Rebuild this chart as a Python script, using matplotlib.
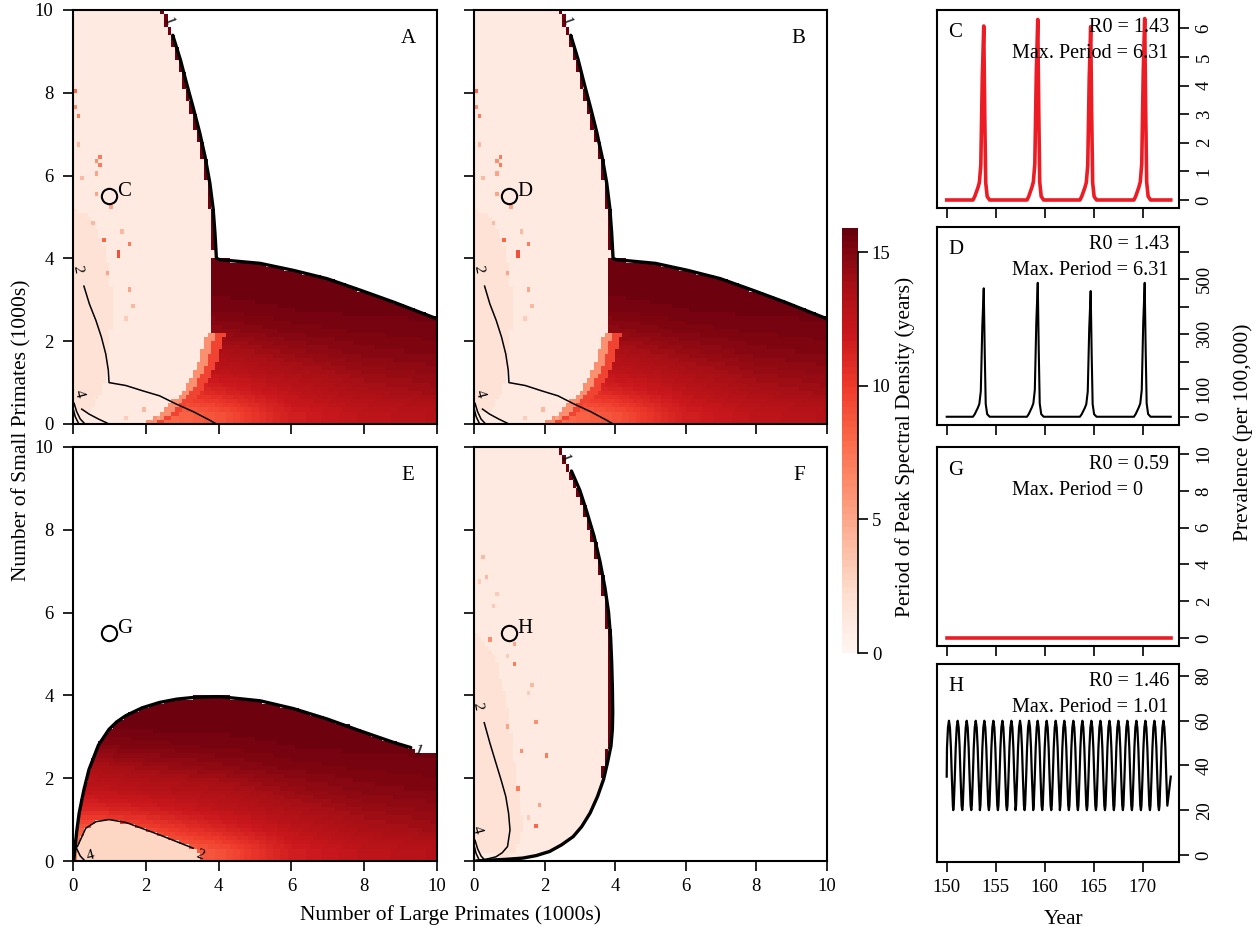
import numpy as np
import matplotlib
matplotlib.use('Agg')
import matplotlib.pyplot as plt
from matplotlib.path import Path

plt.rcParams['font.family'] = ['Liberation Serif', 'DejaVu Serif']

# figure size in pixels
W, H = 1258, 934

#--- Heat map data (1000s of primates) ---
# thick R0 = 1 line, panels A and B
ab_line_x = [2.74, 2.95, 3.11, 3.30, 3.48, 3.63, 3.76, 3.85, 3.90, 3.94, 4.03, 5.14, 6.06, 6.98, 7.90, 8.82, 10.0]
ab_line_y = [9.39, 8.80, 8.26, 7.65, 7.04, 6.45, 5.82, 5.20, 4.61, 4.00, 3.97, 3.88, 3.71, 3.51, 3.23, 2.94, 2.54]
# left edge of the long-period block, A and B
ab_dark_x = [1.92, 2.38, 2.65, 3.02, 3.30, 3.48, 3.66, 3.80, 3.80]
ab_dark_y = [0.00, 0.23, 0.47, 0.79, 1.20, 1.60, 2.17, 2.25, 3.97]
# paler strip along the left axis
ab_pale_x = [0.0, 0.0, 0.5, 0.9, 1.1, 1.0, 0.8, 0.5]
ab_pale_y = [0.3, 5.2, 5.0, 4.2, 3.0, 1.5, 0.8, 0.3]
# single cells that stand out (x, y, period)
ab_spot_x = [0.09, 0.15, 0.05, 0.79, 0.61, 0.79, 0.70, 0.12, 0.63, 0.30, 1.09, 1.50, 1.25, 1.25, 0.81,
             0.99, 1.59, 1.32, 1.62, 1.41, 0.52, 1.92, 2.38, 1.45, 2.10]
ab_spot_y = [8.08, 7.46, 7.67, 6.46, 6.35, 6.25, 6.07, 6.78, 5.58, 5.94, 5.26, 4.32, 4.08, 4.18, 4.44,
             3.63, 3.23, 4.69, 2.82, 2.50, 4.89, 0.31, 0.15, 0.15, 0.06]
ab_spot_v = [8, 7, 6, 7, 6, 7, 5, 4, 5, 4, 5, 7, 9, 9, 8, 5, 5, 4, 4, 3, 4, 4, 5, 3, 6]
# thin contours (R0 = 2, 4, 6, 8)
ab_c2_x = [0.30, 0.45, 0.63, 0.78, 0.90, 0.97, 0.99, 1.45, 1.92, 2.38, 2.84, 3.30, 3.76, 3.94]
ab_c2_y = [3.33, 2.90, 2.50, 2.10, 1.69, 1.30, 1.00, 0.93, 0.80, 0.68, 0.48, 0.30, 0.09, 0.00]
ab_c4_x = [0.24, 0.44, 0.70, 0.99]
ab_c4_y = [0.36, 0.24, 0.12, 0.00]
ab_c6_x = [0.03, 0.10, 0.20, 0.33]
ab_c6_y = [0.50, 0.30, 0.12, 0.00]
ab_c8_x = [0.01, 0.06, 0.16]
ab_c8_y = [0.35, 0.18, 0.00]

# mean period of the long-period block (A, B, E)
dark_tab_x = [0.5, 2.0, 4.0, 6.0, 8.0, 10.0]
dark_tab_y = [0.25, 0.75, 1.25, 1.75, 2.25, 2.75, 3.25, 3.75]
dark_tab_v = [[7.0, 7.5, 9.0, 11.5, 12.5, 13.0],
              [8.5, 9.5, 11.0, 12.5, 13.5, 14.0],
              [11.0, 11.5, 12.5, 13.5, 14.2, 14.5],
              [12.5, 13.0, 13.5, 14.3, 14.8, 15.0],
              [13.5, 14.0, 14.5, 15.0, 15.2, 15.3],
              [14.8, 15.0, 15.2, 15.4, 15.5, 15.5],
              [15.4, 15.5, 15.5, 15.6, 15.6, 15.6],
              [15.6, 15.6, 15.6, 15.6, 15.6, 15.6]]
# lighter fringe on the left of the block in A and B (distance in, period)
fringe_d = [0.25, 0.5]
fringe_v = [6.0, 9.5]

# panel E
e_line_x = [0.02, 0.05, 0.10, 0.17, 0.30, 0.44, 0.70, 0.99, 1.20, 1.45, 1.90, 2.38, 2.85, 3.30, 4.03,
            5.14, 6.06, 6.98, 7.90, 8.82, 9.28]
e_line_y = [0.00, 0.27, 0.70, 1.16, 1.72, 2.21, 2.80, 3.18, 3.36, 3.51, 3.70, 3.83, 3.91, 3.95, 3.97,
            3.87, 3.68, 3.43, 3.14, 2.86, 2.74]
e_shelf_x = [9.40, 10.0]
e_shelf_y = [2.62, 2.62]
e_c2_x = [0.12, 0.35, 0.63, 0.99, 1.46, 2.38, 3.30]
e_c2_y = [0.35, 0.79, 0.95, 1.00, 0.93, 0.63, 0.31]
e_pocket_v = 2.5

# panel F
f_line_x = [2.76, 3.00, 3.19, 3.40, 3.57, 3.71, 3.81, 3.87, 3.90, 3.92, 3.93, 3.92, 3.88, 3.78, 3.67,
            3.50, 3.29, 3.05, 2.81, 2.48, 2.14, 1.76, 1.38, 0.90, 0.43, 0.05]
f_line_y = [9.42, 8.95, 8.45, 7.85, 7.23, 6.60, 6.02, 5.40, 4.80, 4.19, 3.59, 3.18, 2.78, 2.37, 1.97,
            1.56, 1.16, 0.83, 0.59, 0.39, 0.23, 0.13, 0.07, 0.04, 0.02, 0.00]
f_pale_x = [0.0, 0.0, 0.6, 1.0, 1.2, 1.4, 1.2, 0.8]
f_pale_y = [0.3, 5.5, 5.0, 3.5, 2.0, 0.8, 0.2, 0.1]
f_spot_x = [0.21, 0.31, 0.12, 0.62, 0.50, 0.41, 1.11, 0.90, 1.11, 1.62, 1.52, 1.73, 0.90, 1.31, 2.03, 1.22, 1.81, 1.79, 1.52]
f_spot_y = [7.37, 6.87, 6.76, 6.46, 6.16, 5.35, 5.25, 4.94, 4.74, 4.23, 4.03, 3.33, 3.24, 2.63, 2.53, 1.72, 1.40, 0.83, 1.01]
f_spot_v = [4, 4, 3, 3, 3, 6, 5, 3, 7, 4, 3, 6, 5, 6, 7, 7, 5, 8, 3]
f_c2_x = [0.29, 0.45, 0.62, 0.77, 0.90, 0.98, 1.02, 0.95, 0.80, 0.62, 0.14]
f_c2_y = [3.34, 2.85, 2.37, 1.95, 1.56, 1.15, 0.75, 0.35, 0.20, 0.10, 0.00]

pink_v = 1.0   # period of the short-cycle region
vmax = 15.9

#--- Time series data (right column) ---
c_peak_year = [153.78, 159.29, 164.69, 170.20]
c_peak = [6.08, 6.31, 6.06, 6.34]
d_peak = [467, 487, 457, 487]
pulse_dt = [-1.10, -0.92, -0.60, -0.45, -0.30, -0.15, 0.00, 0.10, 0.20, 0.35, 0.60]
pulse_f = [0.0, 0.02, 0.07, 0.10, 0.20, 0.70, 1.00, 0.50, 0.10, 0.02, 0.0]
h_peak_year = [150.23, 151.12, 152.04, 152.96, 153.84, 154.76, 155.68, 156.60, 157.48, 158.40,
               159.28, 160.20, 161.12, 162.00, 162.92, 163.84, 164.76, 165.68, 166.60, 167.51,
               168.43, 169.35, 170.27, 171.19, 172.11]
h_shape_dt = [-0.455, -0.40, -0.30, -0.20, -0.10, 0.00, 0.10, 0.20, 0.30, 0.40]
h_shape_v = [20, 22, 34, 48, 57, 60, 57, 48, 34, 22]
t_start, t_end = 150.0, 172.86

#--- grid of cell centres ---
xs = np.arange(100) * 0.1 + 0.05
ys = np.arange(100) * 0.1 + 0.05
GX, GY = np.meshgrid(xs, ys)


def inside(px, py):
    path = Path(np.column_stack([px, py]))
    pts = np.column_stack([GX.ravel(), GY.ravel()])
    return path.contains_points(pts).reshape(GX.shape)


def dark_field():
    tab = np.asarray(dark_tab_v)
    rows = np.array([np.interp(xs, dark_tab_x, r) for r in tab])
    out = np.empty(GX.shape)
    for j in range(len(xs)):
        out[:, j] = np.interp(ys, dark_tab_y, rows[:, j])
    return out


def add_spots(f, sx, sy, sv):
    for x, y, v in zip(sx, sy, sv):
        i, j = int(y / 0.1), int(x / 0.1)
        if not np.isnan(f[i, j]):
            f[i, j] = v


def edge_cells(f, y_min):
    # cells right against the blank region come out at the longest period
    nan_right = np.zeros(f.shape, bool)
    nan_right[:, :-1] = np.isnan(f[:, 1:])
    f[nan_right & ~np.isnan(f) & (GY > y_min)] = 15.6


# panels A/B
field_ab = np.full(GX.shape, np.nan)
outer = inside([0, 0, 2.51, 2.62] + ab_line_x + [10],
               [0, 10, 10, 9.7] + ab_line_y + [0])
field_ab[outer] = pink_v
field_ab[outer & inside(ab_pale_x, ab_pale_y)] = 1.9
dark = outer & inside(ab_dark_x + [10.1, 10.1], ab_dark_y + [3.97, -0.1])
field_ab[dark] = dark_field()[dark]
dist_in = GX - np.interp(GY, ab_dark_y, ab_dark_x)
for d, v in zip(fringe_d[::-1], fringe_v[::-1]):
    field_ab[dark & (dist_in < d) & (GY < 2.2)] = v
add_spots(field_ab, ab_spot_x, ab_spot_y, ab_spot_v)
edge_cells(field_ab, 4.2)

# panel E
field_e = np.full(GX.shape, np.nan)
outer_e = inside(e_line_x + e_shelf_x + [10], e_line_y + e_shelf_y + [0])
field_e[outer_e] = dark_field()[outer_e]
pocket = inside(e_c2_x + [3.45, 3.5, 0.05, 0.05], e_c2_y + [0.2, 0.0, 0.0, 0.2])
field_e[outer_e & pocket] = e_pocket_v

# panel F
field_f = np.full(GX.shape, np.nan)
outer_f = inside([0, 0, 2.52, 2.57] + f_line_x, [0, 10, 10, 9.72] + f_line_y)
field_f[outer_f] = pink_v
field_f[outer_f & inside(f_pale_x, f_pale_y)] = 1.9
add_spots(field_f, f_spot_x, f_spot_y, f_spot_v)
edge_cells(field_f, 2.0)

cmap = plt.get_cmap('Reds').resampled(64)
cmap.set_bad('white')

fig = plt.figure(figsize=(W / 100, H / 100), dpi=100)


def add_ax(l, t, r, b):
    return fig.add_axes([l / W, 1 - b / H, (r - l) / W, (b - t) / H])


def heat_panel(rect, field, letter, tag, xlab, ylab):
    ax = add_ax(*rect)
    im = ax.imshow(field, origin='lower', extent=[0, 10, 0, 10], cmap=cmap, vmin=0, vmax=vmax,
                   interpolation='nearest', aspect='auto')
    ax.set_xlim(0, 10)
    ax.set_ylim(0, 10)
    ax.set_xticks(range(0, 11, 2))
    ax.set_yticks(range(0, 11, 2))
    ax.tick_params(direction='out', length=7, width=1.2, labelsize=13.5)
    ax.tick_params(axis='y', pad=7)
    ax.tick_params(axis='x', pad=5)
    if not xlab:
        ax.set_xticklabels([])
    if not ylab:
        ax.set_yticklabels([])
    for s in ax.spines.values():
        s.set_linewidth(1.5)
    ax.text(9.2, 9.3, letter, fontsize=15, ha='center', va='center')
    ax.plot([1.0], [5.5], 'o', ms=11, mfc='none', mec='black', mew=1.5)
    ax.text(1.22, 5.62, tag, fontsize=15, ha='left', va='center')
    return ax, im


def thin(ax, x, y):
    ax.plot(x, y, color='black', lw=1.1)


def clabel(ax, x, y, s, rot):
    ax.text(x, y, s, fontsize=11, ha='center', va='center', rotation=rot)


ax_a, im = heat_panel((73, 10, 437, 424), field_ab, 'A', 'C', False, True)
ax_b, _ = heat_panel((474, 10, 827, 424), field_ab, 'B', 'D', False, False)
for ax in (ax_a, ax_b):
    ax.plot(ab_line_x, ab_line_y, color='black', lw=2.4, solid_capstyle='round')
    thin(ax, ab_c2_x, ab_c2_y)
    thin(ax, ab_c4_x, ab_c4_y)
    thin(ax, ab_c6_x, ab_c6_y)
    thin(ax, ab_c8_x, ab_c8_y)
    clabel(ax, 2.62, 9.72, '1', -70)
    clabel(ax, 0.12, 3.75, '2', -80)
    clabel(ax, 0.18, 0.72, '4', -75)

ax_e, _ = heat_panel((73, 447, 437, 861), field_e, 'E', 'G', True, True)
ax_e.plot(e_line_x, e_line_y, color='black', lw=2.4, solid_capstyle='round')
thin(ax_e, e_c2_x, e_c2_y)
thin(ax_e, ab_c6_x, ab_c6_y)
clabel(ax_e, 9.5, 2.66, '1', -20)
clabel(ax_e, 3.48, 0.14, '2', -20)
clabel(ax_e, 0.49, 0.12, '4', 15)

ax_f, _ = heat_panel((474, 447, 827, 861), field_f, 'F', 'H', True, False)
ax_f.plot(f_line_x, f_line_y, color='black', lw=2.4, solid_capstyle='round')
thin(ax_f, f_c2_x, f_c2_y)
thin(ax_f, ab_c6_x, ab_c6_y)
thin(ax_f, ab_c8_x, ab_c8_y)
clabel(ax_f, 2.57, 9.72, '1', -70)
clabel(ax_f, 0.10, 3.75, '2', -80)
clabel(ax_f, 0.10, 0.75, '4', -75)

fig.text(22 / W, 1 - 430 / H, 'Number of Small Primates (1000s)', rotation=90,
         ha='center', va='center', fontsize=15.5)
fig.text(450 / W, 1 - 915 / H, 'Number of Large Primates (1000s)',
         ha='center', va='center', fontsize=15.5)

# colour bar
cax = add_ax(842, 228, 858, 653)
cb = fig.colorbar(im, cax=cax, ticks=[0, 5, 10, 15])
cb.outline.set_visible(False)
cax.tick_params(direction='out', length=7, width=1.2, labelsize=13.5, pad=3)
cax.axvline(1.0, 0, 15 / vmax, color='black', lw=1.2, clip_on=False)
fig.text(905 / W, 1 - 447 / H, 'Period of Peak Spectral Density (years)', rotation=90,
         ha='center', va='center', fontsize=15.5)


#--- time series ---
def pulses(heights):
    t = [t_start]
    v = [0.0]
    for p, h in zip(c_peak_year, heights):
        for d, f in zip(pulse_dt, pulse_f):
            t.append(p + d)
            v.append(h * f)
    t.append(t_end)
    v.append(0.0)
    return t, v


h_t = [t_start]
h_v = [35]
for p in h_peak_year:
    for d, val in zip(h_shape_dt, h_shape_v):
        if t_start < p + d < t_end:
            h_t.append(p + d)
            h_v.append(val)
h_t.append(t_end)
h_v.append(35)


def ts_panel(rect, letter, r0, period, ylim, yticks, ylabels, xlab):
    ax = add_ax(*rect)
    ax.set_xlim(149.01, 173.70)
    ax.set_ylim(*ylim)
    ax.yaxis.tick_right()
    ax.set_yticks(yticks)
    ax.set_yticklabels(ylabels, rotation=90, va='center')
    ax.set_xticks([150, 155, 160, 165, 170])
    if not xlab:
        ax.set_xticklabels([])
    ax.tick_params(direction='out', length=7, width=1.2, labelsize=13.5)
    ax.tick_params(axis='y', pad=5)
    ax.tick_params(axis='x', pad=5)
    for s in ax.spines.values():
        s.set_linewidth(1.5)
    ax.text(0.045, 0.884, letter, transform=ax.transAxes, fontsize=15, ha='left', va='center')
    ax.text(0.628, 0.914, 'R0 = ' + r0, transform=ax.transAxes, fontsize=14.5, ha='left', va='center')
    ax.text(0.31, 0.781, 'Max. Period = ' + period, transform=ax.transAxes, fontsize=14.5,
            ha='left', va='center')
    return ax


ax_c = ts_panel((937, 10, 1179, 208), 'C', '1.43', '6.31', (-0.28, 6.64),
                range(0, 7), [str(i) for i in range(7)], False)
ax_c.plot(*pulses(c_peak), color='#ec1c24', lw=2.6, zorder=1)

ax_d = ts_panel((937, 227, 1179, 425), 'D', '1.43', '6.31', (-30, 690),
                range(0, 601, 100), ['0', '100', '', '300', '', '500', ''], False)
ax_d.plot(*pulses(d_peak), color='black', lw=1.5)

ax_g = ts_panel((937, 447, 1179, 646), 'G', '0.59', '0', (-0.43, 10.38),
                range(0, 11, 2), [str(i) for i in range(0, 11, 2)], False)
ax_g.plot([t_start, t_end], [0, 0], color='#ec1c24', lw=2.6)

ax_h = ts_panel((937, 664, 1179, 862), 'H', '1.46', '1.01', (-3.2, 85.4),
                range(0, 81, 20), [str(i) for i in range(0, 81, 20)], True)
ax_h.plot(h_t, h_v, color='black', lw=1.6)

fig.text(1064 / W, 1 - 920 / H, 'Year', ha='center', va='center', fontsize=15.5)
fig.text(1243 / W, 1 - 432 / H, 'Prevalence (per 100,000)', rotation=90,
         ha='center', va='center', fontsize=15.5)

fig.savefig('out.png', dpi=100)
